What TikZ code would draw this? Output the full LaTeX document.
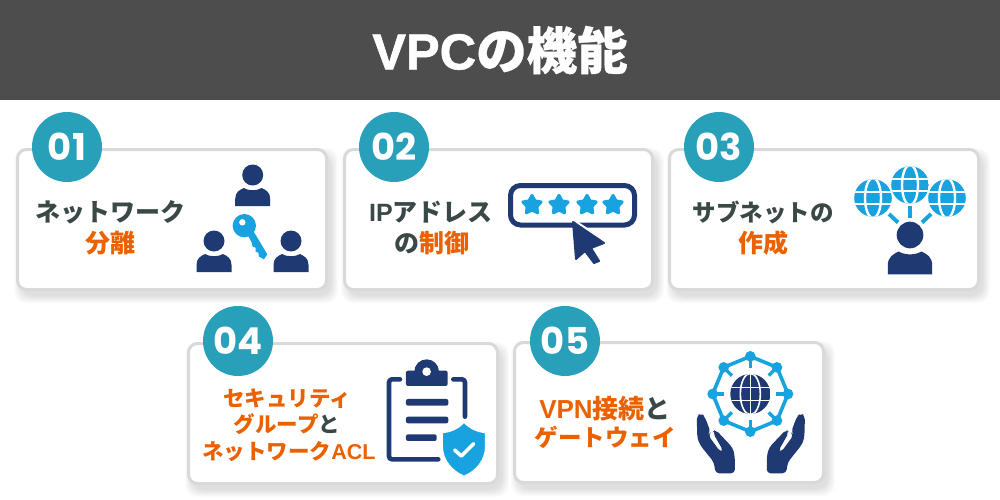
\documentclass[tikz,border=0pt]{standalone}
\usepackage{fontspec}
\usetikzlibrary{shapes.geometric}
\newfontfamily\jpfont{Noto Sans CJK JP}
\newfontfamily\jpheavy{Noto Sans CJK JP}[BoldFeatures={FakeBold=0.6}]
\newfontfamily\latfont{Liberation Sans}
\newfontfamily\latheavy{Liberation Sans}[BoldFeatures={FakeBold=1.2}]
\newfontfamily\numfont{Poppins}
\definecolor{headgray}{HTML}{4D4D4D}
\definecolor{tealc}{HTML}{28A0B9}
\definecolor{inkc}{HTML}{3A4848}
\definecolor{orangec}{HTML}{EB6100}
\definecolor{navyc}{HTML}{1F3A72}
\definecolor{skyc}{HTML}{18A3E0}
\definecolor{edgec}{HTML}{D9D9D9}
\newcommand{\lat}[1]{{\latfont #1}}
\newcommand{\org}[1]{\textcolor{orangec}{#1}}
\tikzset{
  x=1pt,y=-1pt,
  cardbox/.style={draw=edgec,line width=3pt,fill=white,rounded corners=9pt},
  cardshade/.style={fill=black,opacity=0.016,rounded corners=12pt},
  badge/.style={circle,fill=tealc,minimum size=70pt,inner sep=0pt,text=white,font=\numfont\bfseries\fontsize{37}{37}\selectfont},
  lab/.style={inner sep=0pt,text=inkc,font=\jpfont\bfseries\fontsize{25}{25}\selectfont,text height=20pt,text depth=3pt},
  labt/.style={lab,font=\jpfont\bfseries\fontsize{23.5}{25}\selectfont},
  labv/.style={lab,font=\jpfont\bfseries\fontsize{26}{26}\selectfont},
  labs/.style={lab,font=\jpfont\bfseries\fontsize{21.5}{22}\selectfont},
  navyfill/.style={fill=navyc},
  skyfill/.style={fill=skyc},
  starnode/.style={star,star points=5,star point ratio=1.9,fill=skyc,draw=skyc,line width=3.2pt,line join=round,minimum size=19pt,inner sep=0pt},
}
\newcommand{\card}[4]{% x1 y1 x2 y2
  \foreach \g in {0,1,...,7}{\fill[cardshade] (#1+5-\g,#2+7-\g) rectangle (#3+3+\g,#4+5+\g);}
  \draw[cardbox] (#1+1.5,#2+1.5) rectangle (#3-1.5,#4-1.5);
}
\newcommand{\personicon}[3]{%
  \begin{scope}[shift={(#1,#2)},scale=#3]
    \fill[navyfill] (-17.5,31) -- (-17.5,24) .. controls (-17.5,17) and (-13,15) .. (-9,13)
       .. controls (-4,16) and (4,16) .. (9,13) .. controls (13,15) and (17.5,17) .. (17.5,24) -- (17.5,31) -- cycle;
    \fill[navyfill] (0,0) circle (10.5);
  \end{scope}
}
\newcommand{\globeicon}[2]{%
  \begin{scope}[shift={(#1,#2)}]
    \fill[white] (0,0) circle (20.5);
    \begin{scope}
      \clip (0,0) circle (18.8);
      \fill[skyfill] (-19,-19) rectangle (19,19);
      \draw[white,line width=2.3pt] (-19,-6.2) -- (19,-6.2) (-19,6.2) -- (19,6.2);
      \draw[white,line width=2.4pt] (0,0) ellipse (8 and 20);
    \end{scope}
  \end{scope}
}
\newcommand{\handshape}{%
  \fill[navyfill,rounded corners=4pt] (20,212) -- (33,205) -- (44,214) -- (62,262) -- (54,270) -- (92,322) -- (100,318) -- (68,262) -- (76,253) -- (128,308) -- (134,330) -- (135,385) -- (76,385) -- (72,352) -- (30,300) -- (22,280) -- cycle;
}
\begin{document}
\begin{tikzpicture}
\useasboundingbox (0,0) rectangle (1000,500);
\fill[white] (0,0) rectangle (1000,500);
\fill[headgray] (0,0) rectangle (1000,100);
\node[inner sep=0pt,text=white,font=\jpheavy\bfseries\fontsize{50.5}{50}\selectfont] (title) at (500,50) {{\latheavy VPC}の機能};
% cards
\card{16}{148}{328}{291}
\card{343}{148}{654}{291}
\card{668}{148}{980}{291}
\card{187}{342}{499}{485}
\card{513}{341}{825}{484}
% badges
\node[badge] (b1) at (67,147) {01};
\node[badge] (b2) at (394,147) {02};
\node[badge] (b3) at (719,147) {03};
\node[badge] (b4) at (238,341) {04};
\node[badge] (b5) at (565,341) {05};
% labels
\node[lab] (t1a) at (110,212.5) {ネットワーク};
\node[lab,text=orangec] (t1b) at (110,244) {分離};
\node[lab] (t2a) at (431,212.5) {\lat{IP}アドレス};
\node[lab] (t2b) at (432,244) {の\org{制御}};
\node[labt] (t3a) at (763,212.5) {サブネットの};
\node[lab,text=orangec] (t3b) at (763,244) {作成};
\node[labs,text=orangec] (t4a) at (287,398) {セキュリティ};
\node[labs] (t4b) at (287,424) {\org{グループ}と};
\node[labs,text=orangec] (t4c) at (289,451) {ネットワーク\lat{ACL}};
\node[labv,text=orangec] (t5a) at (605,410) {\lat{VPN}接続\textcolor{inkc}{と}};
\node[labt,text=orangec] (t5b) at (605,438) {ゲートウェイ};
% icon 1: people and key
\personicon{252.7}{175}{1}
\personicon{214}{241}{1}
\personicon{291}{241}{1}
\begin{scope}[shift={(190,155)},x=0.3333pt,y=-0.3333pt]
  \fill[skyfill,even odd rule] (163,212) circle (35) (157,202) circle (10);
  \fill[skyfill] (172,238) -- (190,228) -- (232,298) -- (222,313) -- (207,305) -- (205,293) -- (197,290) -- (197,278) -- (188,275) -- (185,262) -- cycle;
\end{scope}
% icon 2: password field
\draw[navyc,line width=5pt,rounded corners=10pt] (510.5,185.5) rectangle (634.5,225);
\node[starnode] (s1) at (532,205) {};
\node[starnode] (s2) at (559,205) {};
\node[starnode] (s3) at (587,205) {};
\node[starnode] (s4) at (613,205) {};
\fill[white] (566,214) -- (612,244) -- (590,254) -- (580,232) -- cycle;
\draw[navyc,fill=navyc,line width=2pt,line join=round] (573,222) -- (604,243) -- (591,248) -- (599,261) -- (594,263) -- (585,251) -- (576,259) -- cycle;
% icon 3: globes and person
\globeicon{873}{198}
\globeicon{947}{198}
\globeicon{910}{185}
\draw[skyc,line width=4pt] (910,206) -- (910,218);
\draw[skyc,line width=4pt] (889,214) -- (898,222.5);
\draw[skyc,line width=4pt] (931,214) -- (922,222.5);
\personicon{910}{235}{1.27}
% icon 4: clipboard and shield
\begin{scope}[shift={(180,300)},x=0.3333pt,y=-0.3333pt]
  \draw[navyc,line width=4.6pt,line cap=round,line join=round,rounded corners=3pt] (660,238) -- (627,238) -- (627,478) -- (775,478);
  \draw[navyc,line width=4.6pt,line cap=round,line join=round,rounded corners=3pt] (820,238) -- (855,238) -- (855,350);
  \fill[navyfill,rounded corners=2pt] (678,212) rectangle (803,258);
  \fill[navyfill] (740,215) circle (37);
  \fill[white] (740,215) circle (13);
  \fill[navyfill,rounded corners=2pt] (678,297) rectangle (805,317);
  \fill[navyfill,rounded corners=2pt] (678,350) rectangle (805,370);
  \fill[navyfill,rounded corners=2pt] (678,403) rectangle (770,423);
  \fill[skyfill,draw=white,line width=2pt] (852,365) .. controls (870,385) and (895,395) .. (918,397) -- (918,440) .. controls (918,480) and (890,515) .. (852,530) .. controls (815,515) and (786,480) .. (786,440) -- (786,397) .. controls (810,395) and (835,385) .. (852,365) -- cycle;
  \draw[white,line width=3.6pt,line cap=round,line join=round] (824,450) -- (844,468) -- (881,431);
\end{scope}
% icon 5: network globe and hands
\begin{scope}[shift={(690,345)},x=0.3333pt,y=-0.3333pt]
  \begin{scope}[shift={(181,147)}]
    \draw[skyc,line width=3.6pt,line join=round] (0:113) -- (45:113) -- (90:113) -- (135:113) -- (180:113) -- (225:113) -- (270:113) -- (315:113) -- cycle;
    \foreach \a in {0,45,...,315}{
      \fill[skyfill] (\a:113) circle (16);
      \draw[skyc,line width=3.4pt] (\a:113) -- (\a:78);
    }
    \begin{scope}
      \clip (0,0) circle (60);
      \fill[navyfill] (-60,-60) rectangle (60,60);
      \draw[white,line width=1.6pt] (-60,-19) -- (60,-19) (-60,19) -- (60,19) (0,-60) -- (0,60);
      \draw[white,line width=1.6pt] (0,0) ellipse (30 and 62);
    \end{scope}
  \end{scope}
  \handshape
  \begin{scope}[shift={(365,0)},xscale=-1]
    \handshape
  \end{scope}
\end{scope}
\end{tikzpicture}
\end{document}
